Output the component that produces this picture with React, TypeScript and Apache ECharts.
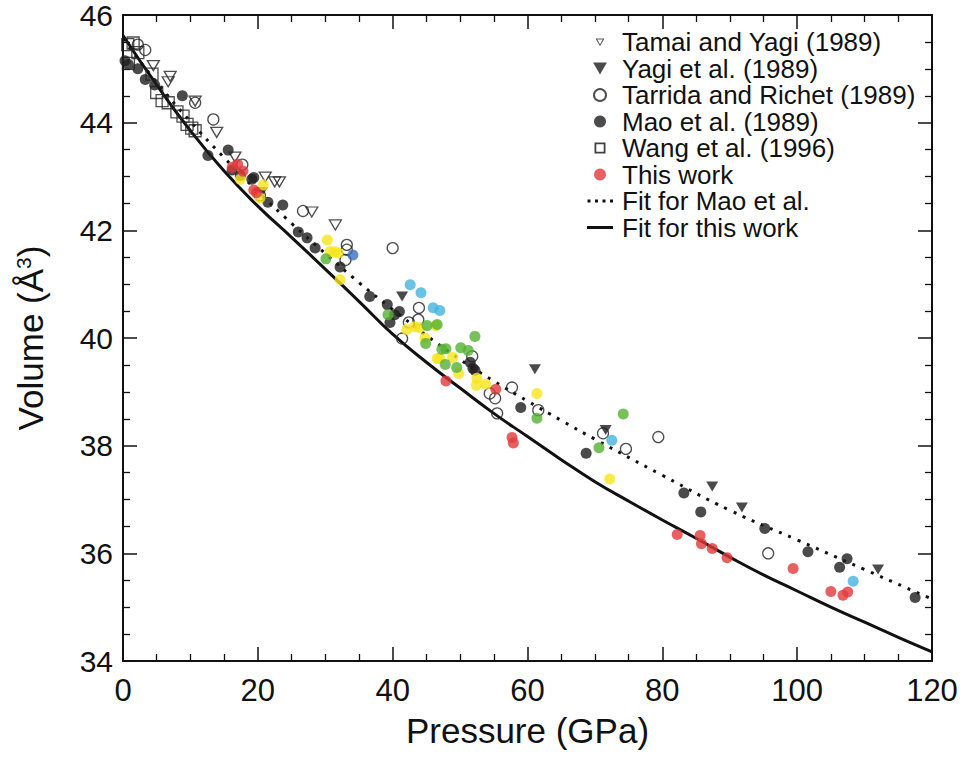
import React, { useEffect, useRef } from "react";
import * as echarts from "echarts";

// ---------- data (pressure GPa, volume Å^3) ----------
const tamaiYagi: number[][] = [
  [4.5, 45.06], [6.7, 44.76], [7.0, 44.86], [10.7, 44.4], [13.9, 43.82], [16.6, 43.36],
  [21.1, 42.99], [22.5, 42.9], [23.2, 42.9], [28.0, 42.34], [31.5, 42.1],
];
const yagiEtAl: number[][] = [
  [20.6, 42.71], [41.4, 40.77], [61.1, 39.42], [71.6, 38.29], [87.4, 37.24], [91.8, 36.85], [112.0, 35.7],
];
const tarridaRichet: number[][] = [
  [2.2, 45.45], [3.3, 45.35], [10.7, 44.37], [13.4, 44.06], [17.7, 43.22], [20.3, 42.65],
  [26.7, 42.36], [33.2, 41.73], [33.2, 41.64], [33.0, 41.45], [40.0, 41.67], [43.9, 40.56],
  [42.4, 40.29], [43.8, 40.34], [41.4, 39.99], [51.8, 39.66], [57.7, 39.08], [54.4, 38.97],
  [55.2, 38.88], [55.5, 38.6], [61.6, 38.66], [71.2, 38.23], [74.6, 37.94], [79.4, 38.16], [95.7, 36.0],
];
const maoEtAl: number[][] = [
  [0.3, 45.15], [0.8, 45.08], [2.2, 45.0], [3.3, 44.8], [4.7, 44.7], [8.8, 44.5], [12.6, 43.39],
  [15.6, 43.49], [16.2, 43.12], [17.4, 43.02], [19.1, 42.95], [19.4, 42.98], [21.5, 42.52],
  [23.7, 42.47], [26.0, 41.97], [27.3, 41.86], [28.5, 41.67], [32.2, 41.32], [36.6, 40.77],
  [39.2, 40.62], [40.3, 40.43], [41.0, 40.49], [39.6, 40.29], [51.5, 39.55], [51.9, 39.44],
  [52.2, 39.4], [59.0, 38.71], [68.7, 37.86], [83.2, 37.12], [85.7, 36.77], [95.2, 36.46],
  [101.6, 36.03], [107.4, 35.9], [106.3, 35.74], [117.5, 35.18],
];
const wangEtAl: number[][] = [
  [0.7, 45.45], [1.5, 45.48], [2.2, 45.3], [0.8, 45.1], [4.3, 44.9], [5.0, 44.56], [5.8, 44.41],
  [6.7, 44.37], [8.0, 44.2], [8.9, 44.12], [9.5, 43.97], [10.2, 43.9], [10.7, 43.85],
];
const thisWork: number[][] = [
  [16.2, 43.17], [17.0, 43.23], [17.8, 43.1], [19.4, 42.75], [19.8, 42.7], [47.9, 39.2],
  [55.3, 39.05], [57.7, 38.15], [57.9, 38.05], [82.2, 36.35], [85.6, 36.33], [85.8, 36.18],
  [87.4, 36.09], [89.6, 35.92], [99.4, 35.72], [105.0, 35.29], [106.8, 35.22], [107.5, 35.28],
];
const yellowPts: number[][] = [
  [17.4, 42.95], [20.8, 42.84], [20.3, 42.6], [30.3, 41.82], [30.7, 41.6], [31.4, 41.6],
  [31.9, 41.58], [32.2, 41.08], [42.1, 40.16], [43.3, 40.21], [44.0, 40.19], [46.4, 40.23],
  [44.8, 40.0], [46.6, 39.62], [47.0, 39.62], [48.9, 39.64], [49.8, 39.34], [52.5, 39.25],
  [52.4, 39.12], [53.8, 39.14], [61.4, 38.97], [72.2, 37.38],
];
const greenPts: number[][] = [
  [30.1, 41.47], [39.3, 40.43], [45.1, 40.23], [46.6, 40.25], [44.9, 39.9], [52.2, 40.03],
  [50.1, 39.82], [51.2, 39.77], [47.3, 39.79], [47.9, 39.8], [47.8, 39.51], [49.5, 39.45],
  [61.4, 38.51], [74.2, 38.59], [70.6, 37.96],
];
const cyanPts: number[][] = [
  [42.6, 40.99], [44.2, 40.84], [46.0, 40.56], [47.0, 40.51], [72.5, 38.1], [108.3, 35.48],
];
const bluePts: number[][] = [[34.1, 41.54]];

const fitMao: number[][] = [
  [0, 45.55], [5, 44.75], [10, 44.02], [15, 43.35], [20, 42.72], [25, 42.13], [30, 41.57],
  [35, 41.03], [40, 40.53], [45, 40.05], [50, 39.6], [55, 39.2], [60, 38.83], [65, 38.47],
  [70, 38.12], [80, 37.45], [90, 36.8], [100, 36.25], [110, 35.7], [120, 35.15],
];
const fitThisWork: number[][] = [
  [0, 45.62], [5, 44.7], [10, 43.85], [15, 43.1], [20, 42.45], [25, 41.87], [30, 41.28],
  [35, 40.68], [40, 40.07], [45, 39.55], [50, 39.07], [55, 38.6], [60, 38.17], [65, 37.74],
  [70, 37.33], [75, 36.97], [80, 36.62], [85, 36.28], [90, 35.93], [95, 35.6], [100, 35.3],
  [105, 35.0], [110, 34.72], [115, 34.44], [120, 34.17],
];

const legendNames = [
  "Tamai and Yagi (1989)",
  "Yagi et al. (1989)",
  "Tarrida and Richet (1989)",
  "Mao et al. (1989)",
  "Wang et al. (1996)",
  "This work",
  "Fit for Mao et al.",
  "Fit for this work",
];

const FONT = "'Liberation Sans', Arial, Helvetica, sans-serif";
const TRI_DOWN = "path://M0,0L10,0L5,8.66Z";
// legend icons drawn inside a 26x12 box (tiny corner points fix the box)
const BOX = "M0,0h0.01v0.01h-0.01Z M26,12h-0.01v-0.01h0.01Z";
const ICON_SOLID = "path://" + BOX + " M0,4.6H26V7.4H0Z";
const ICON_DOTTED =
  "path://" + BOX + " M0.5,4.5h3v3h-3Z M8,4.5h3v3h-3Z M15.5,4.5h3v3h-3Z M23,4.5h3v3h-3Z";
const ICON_SQUARE =
  "path://" + BOX + " M7.5,0.5H18.5V11.5H7.5Z M9.3,2.3V9.7H16.7V2.3Z";
const ICON_TRI_OPEN =
  "path://" + BOX + " M8.5,2.5H17.5L13,10.3Z M10.3,3.5L13,8.2L15.7,3.5Z";

export default function App() {
  const ref = useRef<HTMLDivElement>(null);

  useEffect(() => {
    if (!ref.current) return;
    const chart = echarts.init(ref.current, undefined, { renderer: "svg" });

    const axisCommon = {
      type: "value" as const,
      axisLine: { show: true, onZero: false, lineStyle: { color: "#111", width: 2 } },
      axisTick: { show: true, inside: true, length: 14, lineStyle: { color: "#111", width: 1.5 } },
      minorTick: { show: true, splitNumber: 4, length: 7, lineStyle: { color: "#111", width: 1.3 } },
      splitLine: { show: false },
      minorSplitLine: { show: false },
    };

    const openStyle = { color: "rgba(255,255,255,0)", borderColor: "#222", borderWidth: 1.3 };

    const legendData = legendNames.map((name) => {
      if (name === "Tamai and Yagi (1989)")
        return { name, icon: ICON_TRI_OPEN, itemStyle: { color: "#333", borderWidth: 0 } };
      if (name === "Wang et al. (1996)")
        return { name, icon: ICON_SQUARE, itemStyle: { color: "#111", borderWidth: 0 } };
      if (name === "Fit for Mao et al.")
        return { name, icon: ICON_DOTTED, itemStyle: { color: "#111", borderWidth: 0 } };
      if (name === "Fit for this work")
        return { name, icon: ICON_SOLID, itemStyle: { color: "#111", borderWidth: 0 } };
      return { name };
    });

    chart.setOption({
      animation: false,
      backgroundColor: "#fff",
      grid: { left: 123, right: 30, top: 14, bottom: 105 },
      legend: {
        data: legendData,
        orient: "vertical",
        left: 582,
        top: 24,
        itemWidth: 26,
        itemHeight: 12,
        itemGap: 0.5,
        selectedMode: false,
        textStyle: {
          fontFamily: FONT,
          fontSize: 26,
          lineHeight: 26,
          color: "#111",
          padding: [0, 0, 0, 4],
        },
      },
      xAxis: [
        {
          ...axisCommon,
          min: 0,
          max: 120,
          interval: 20,
          position: "bottom",
          axisLabel: { fontFamily: FONT, fontSize: 31, color: "#111", margin: 14 },
          name: "Pressure (GPa)",
          nameLocation: "middle",
          nameGap: 52,
          nameTextStyle: { fontFamily: FONT, fontSize: 35, color: "#111" },
        },
        {
          ...axisCommon,
          min: 0,
          max: 120,
          interval: 20,
          position: "top",
          axisLabel: { show: false },
        },
      ],
      yAxis: [
        {
          ...axisCommon,
          min: 34,
          max: 46,
          interval: 2,
          position: "left",
          axisLabel: { fontFamily: FONT, fontSize: 30, lineHeight: 28, color: "#111", margin: 10 },
          name: "Volume (Å{sup|3})",
          nameLocation: "middle",
          nameGap: 75,
          nameTextStyle: {
            fontFamily: FONT,
            fontSize: 35,
            color: "#111",
            rich: {
              sup: { fontFamily: FONT, fontSize: 21, color: "#111", verticalAlign: "top", padding: [0, 0, 14, 0] },
            },
          },
        },
        {
          ...axisCommon,
          min: 34,
          max: 46,
          interval: 2,
          position: "right",
          axisLabel: { show: false },
        },
      ],
      series: [
        {
          name: "Fit for this work",
          type: "line",
          data: fitThisWork,
          smooth: true,
          symbol: "none",
          itemStyle: { color: "#111" },
          lineStyle: { color: "#111", width: 3 },
          z: 2,
        },
        {
          name: "Fit for Mao et al.",
          type: "line",
          data: fitMao,
          smooth: true,
          symbol: "none",
          itemStyle: { color: "#111" },
          lineStyle: { color: "#111", width: 3, type: [3, 7] },
          z: 2,
        },
        {
          name: "Wang et al. (1996)",
          type: "scatter",
          data: wangEtAl,
          symbol: "rect",
          symbolSize: 12,
          itemStyle: openStyle,
          z: 3,
        },
        {
          name: "Mao et al. (1989)",
          type: "scatter",
          data: maoEtAl,
          symbol: "circle",
          symbolSize: 11,
          itemStyle: { color: "#1e1e1e" },
          z: 3,
        },
        {
          name: "Tamai and Yagi (1989)",
          type: "scatter",
          data: tamaiYagi,
          symbol: TRI_DOWN,
          symbolSize: [12, 10],
          itemStyle: openStyle,
          z: 4,
        },
        {
          name: "Yagi et al. (1989)",
          type: "scatter",
          data: yagiEtAl,
          symbol: TRI_DOWN,
          symbolSize: [12, 10],
          itemStyle: { color: "#1e1e1e" },
          z: 4,
        },
        {
          name: "Tarrida and Richet (1989)",
          type: "scatter",
          data: tarridaRichet,
          symbol: "circle",
          symbolSize: 11,
          itemStyle: openStyle,
          z: 4,
        },
        {
          name: "yellow",
          type: "scatter",
          data: yellowPts,
          symbol: "circle",
          symbolSize: 11,
          itemStyle: { color: "#f6e51a" },
          z: 5,
        },
        {
          name: "green",
          type: "scatter",
          data: greenPts,
          symbol: "circle",
          symbolSize: 11,
          itemStyle: { color: "#55b232" },
          z: 5,
        },
        {
          name: "cyan",
          type: "scatter",
          data: cyanPts,
          symbol: "circle",
          symbolSize: 11,
          itemStyle: { color: "#45b4dd" },
          z: 5,
        },
        {
          name: "blue",
          type: "scatter",
          data: bluePts,
          symbol: "circle",
          symbolSize: 11,
          itemStyle: { color: "#3b6fc2" },
          z: 5,
        },
        {
          name: "This work",
          type: "scatter",
          data: thisWork,
          symbol: "circle",
          symbolSize: 11,
          itemStyle: { color: "#e2393b" },
          z: 6,
        },
      ],
    });

    return () => chart.dispose();
  }, []);

  return <div ref={ref} style={{ width: 962, height: 766, position: "absolute", left: 0, top: 0 }} />;
}
